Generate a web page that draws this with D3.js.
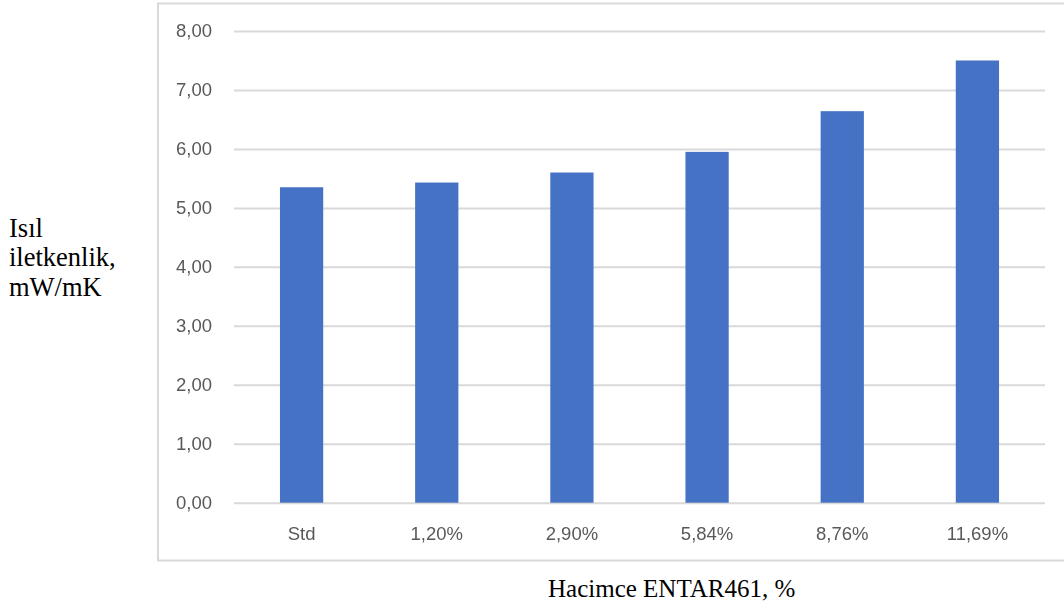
<!DOCTYPE html>
<html>
<head>
<meta charset="utf-8">
<script src="https://cdn.jsdelivr.net/npm/d3@7"></script>
<style>
  html, body { margin: 0; padding: 0; background: #fff; }
  svg { display: block; }
</style>
</head>
<body>
<svg id="chart" width="1064" height="606"></svg>
<script>
// Thermal conductivity by ENTAR461 volume fraction
const categories = ["Std", "1,20%", "2,90%", "5,84%", "8,76%", "11,69%"];
const values = [5.35, 5.43, 5.60, 5.95, 6.64, 7.50];
const yTicks = [0, 1, 2, 3, 4, 5, 6, 7, 8];
const yTitleLines = ["Isıl", "iletkenlik,", "mW/mK"];
const xTitle = "Hacimce ENTAR461, %";

const svg = d3.select("#chart");

// the embedded chart image is slightly soft
svg.append("defs").append("filter")
  .attr("id", "soft")
  .append("feGaussianBlur")
  .attr("stdDeviation", 0.45);

const chart = svg.append("g").attr("filter", "url(#soft)");

const plot = { left: 234, right: 1045, top: 31, bottom: 502.7 };

const x = d3.scaleBand()
  .domain(categories)
  .range([plot.left, plot.right])
  .paddingInner(0.68)
  .paddingOuter(0.34);

const y = d3.scaleLinear()
  .domain([0, 8])
  .range([plot.bottom, plot.top]);

const fmt = v => d3.format(".2f")(v).replace(".", ",");

// chart frame
chart.append("rect")
  .attr("x", 158).attr("y", 3.5)
  .attr("width", 1064).attr("height", 557)
  .attr("fill", "#fff")
  .attr("stroke", "#d9d9d9")
  .attr("stroke-width", 2);

// value axis with gridlines
const yAxis = chart.append("g")
  .attr("transform", `translate(${plot.left},0)`)
  .call(d3.axisLeft(y).tickValues(yTicks).tickFormat(fmt)
    .tickSize(-(plot.right - plot.left)).tickPadding(22));
yAxis.select(".domain").remove();
yAxis.selectAll(".tick line").attr("stroke", "#d9d9d9").attr("stroke-width", 2);
yAxis.selectAll(".tick text")
  .attr("fill", "#595959")
  .style("font-family", "'Liberation Sans', Arial, sans-serif")
  .style("font-size", "18.5px");

// bars
chart.append("g").selectAll("rect")
  .data(values)
  .join("rect")
  .attr("x", (d, i) => x(categories[i]))
  .attr("width", x.bandwidth())
  .attr("y", d => y(d))
  .attr("height", d => y(0) - y(d))
  .attr("fill", "#4472c4");

// category axis
const xAxis = chart.append("g")
  .attr("transform", `translate(0,${plot.bottom})`)
  .call(d3.axisBottom(x).tickSize(0).tickPadding(24));
xAxis.select(".domain").remove();
xAxis.selectAll(".tick text")
  .attr("fill", "#595959")
  .style("font-family", "'Liberation Sans', Arial, sans-serif")
  .style("font-size", "18.5px");

// axis titles
const yTitle = svg.append("text")
  .attr("font-family", "'Liberation Serif', 'Times New Roman', serif")
  .attr("font-size", 26.5)
  .attr("fill", "#000");
yTitle.selectAll("tspan")
  .data(yTitleLines)
  .join("tspan")
  .attr("x", 9)
  .attr("y", (d, i) => 236.5 + i * 29.6)
  .text(d => d);

svg.append("text")
  .attr("x", 548).attr("y", 597)
  .attr("font-family", "'Liberation Serif', 'Times New Roman', serif")
  .attr("font-size", 25)
  .attr("fill", "#000")
  .text(xTitle);
</script>
</body>
</html>
